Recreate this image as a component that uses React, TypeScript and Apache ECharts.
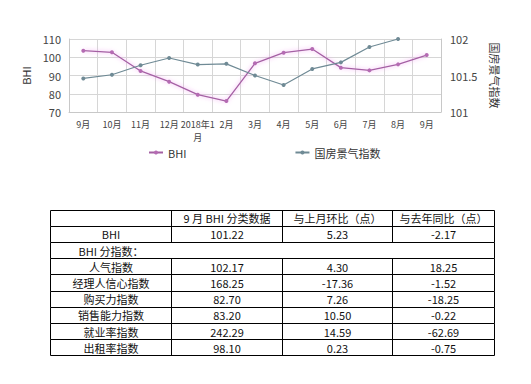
import React, { useEffect, useRef } from "react";
import * as echarts from "echarts";

const months = ["9月", "10月", "11月", "12月", "2018年1月", "2月", "3月", "4月", "5月", "6月", "7月", "8月", "9月"];
const bhiValues = [103.6, 102.7, 92.5, 86.6, 79.5, 76.0, 96.7, 102.5, 104.5, 94.3, 92.8, 96.1, 101.2];
const guofangValues: (number | null)[] = [101.46, 101.51, 101.64, 101.74, 101.65, 101.66, 101.5, 101.37, 101.59, 101.68, 101.89, 102.0, null];

const tableHeader = ["", "9 月 BHI 分类数据", "与上月环比（点）", "与去年同比（点）"];
const rowLabels = ["BHI", "BHI 分指数：", "人气指数", "经理人信心指数", "购买力指数", "销售能力指数", "就业率指数", "出租率指数"];
const col1 = ["101.22", "", "102.17", "168.25", "82.70", "83.20", "242.29", "98.10"];
const col2 = ["5.23", "", "4.30", "-17.36", "7.26", "10.50", "14.59", "0.23"];
const col3 = ["-2.17", "", "18.25", "-1.52", "-18.25", "-0.22", "-62.69", "-0.75"];
const mergedRows = [1];

const FONT = "'Noto Sans CJK SC', 'Noto Sans', sans-serif";

function buildTable() {
  const colX = [50.5, 171.5, 282.5, 392.5, 494.5];
  const top = 209.5;
  const rowH = 16.2;
  const rows = [tableHeader, ...rowLabels.map((l, i) => [l, col1[i], col2[i], col3[i]])];
  const nRows = rows.length;
  const els: any[] = [];
  const line = (x1: number, y1: number, x2: number, y2: number) => ({
    type: "line",
    shape: { x1, y1, x2, y2 },
    style: { stroke: "#000", lineWidth: 1 },
    silent: true,
  });
  for (let r = 0; r <= nRows; r++) {
    const y = Math.round(top + r * rowH) + 0.5;
    els.push(line(colX[0], y, colX[4], y));
  }
  for (let r = 0; r < nRows; r++) {
    const y1 = Math.round(top + r * rowH) + 0.5;
    const y2 = Math.round(top + (r + 1) * rowH) + 0.5;
    const merged = mergedRows.includes(r - 1);
    colX.forEach((x, ci) => {
      if (merged && ci > 0 && ci < 4) return;
      els.push(line(x, y1, x, y2));
    });
    rows[r].forEach((txt, ci) => {
      if (!txt) return;
      els.push({
        type: "text",
        x: (colX[ci] + colX[ci + 1]) / 2,
        y: top + r * rowH + rowH / 2 + 0.5,
        silent: true,
        style: {
          text: txt,
          fill: "#111",
          font: `11px ${FONT}`,
          align: "center",
          verticalAlign: "middle",
        },
      });
    });
  }
  return els;
}

export default function App() {
  const ref = useRef<HTMLDivElement>(null);
  useEffect(() => {
    if (!ref.current) return;
    const chart = echarts.init(ref.current, null, { renderer: "svg" });
    chart.setOption({
      animation: false,
      backgroundColor: "#fff",
      textStyle: { fontFamily: FONT },
      grid: { left: 69, right: 90, top: 39, bottom: 272 },
      legend: {
        left: 143,
        top: 142,
        itemWidth: 14,
        itemHeight: 5,
        itemGap: 108,
        textStyle: { fontSize: 11, color: "#333", fontFamily: FONT },
        data: ["BHI", "国房景气指数"],
      },
      xAxis: {
        type: "category",
        data: months,
        boundaryGap: true,
        axisLine: { lineStyle: { color: "#c8c8c8" } },
        axisTick: { show: false },
        splitLine: { show: true, interval: 0, lineStyle: { color: "#d6d6d6" } },
        axisLabel: {
          interval: 0,
          fontSize: 9,
          lineHeight: 13,
          color: "#444",
          margin: 6,
          verticalAlign: "top",
          formatter: (v: string) => v.replace("年1月", "年1\n月"),
        },
      },
      yAxis: [
        {
          type: "value",
          min: 70,
          max: 110,
          interval: 10,
          name: "BHI",
          nameLocation: "middle",
          nameGap: 36,
          nameTextStyle: { fontSize: 11, color: "#333" },
          axisLine: { show: true, lineStyle: { color: "#c8c8c8" } },
          axisTick: { show: false },
          axisLabel: { fontSize: 11, color: "#444", margin: 8 },
          splitLine: { lineStyle: { color: "#d6d6d6" } },
        },
        {
          type: "value",
          min: 101,
          max: 102,
          interval: 0.5,
          name: "国房景气指数",
          nameLocation: "middle",
          nameRotate: -90,
          nameGap: 49,
          nameTextStyle: { fontSize: 11, color: "#333" },
          axisLine: { show: true, lineStyle: { color: "#c8c8c8" } },
          axisTick: { show: false },
          axisLabel: { fontSize: 11, color: "#444", margin: 9 },
          splitLine: { show: false },
        },
      ],
      series: [
        {
          name: "BHI",
          type: "line",
          yAxisIndex: 0,
          data: bhiValues,
          symbol: "circle",
          symbolSize: 4,
          itemStyle: { color: "#b56bb3" },
          lineStyle: { color: "#a460a3", width: 1.3, shadowColor: "rgba(240,150,240,0.9)", shadowBlur: 4 },
        },
        {
          name: "国房景气指数",
          type: "line",
          yAxisIndex: 1,
          data: guofangValues,
          symbol: "circle",
          symbolSize: 4,
          itemStyle: { color: "#6f8a95" },
          lineStyle: { color: "#6f8a95", width: 1.2 },
        },
      ],
      graphic: buildTable(),
    });
    return () => chart.dispose();
  }, []);
  return <div ref={ref} style={{ position: "fixed", left: 0, top: 0, width: 531, height: 384 }} />;
}
